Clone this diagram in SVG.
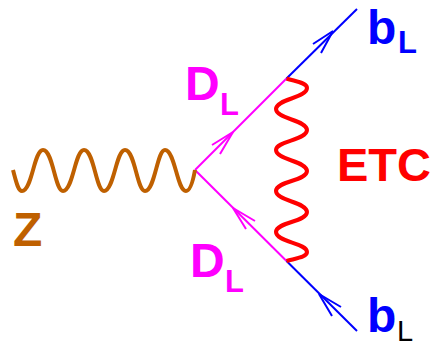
<svg xmlns="http://www.w3.org/2000/svg" width="430" height="343" viewBox="0 0 430 343">
<style>
.ln{fill:none;stroke-width:2;stroke-linecap:butt}
.hd{fill:none;stroke-width:2}
.m{stroke:#ff00ff}
.b{stroke:#0000ff}
.w{fill:none;stroke-width:4;stroke-linecap:butt}
text{font-family:"Liberation Sans",Arial,sans-serif;font-weight:bold}
.big{font-size:48px}
.etc{font-size:47px}
.sub{font-size:31px}
.subk{font-size:29px;font-weight:normal}
</style>
<rect width="430" height="343" fill="#ffffff"/>
<g id="connectors">
<path class="ln m" d="M195 170L286.500 78.500"/>
<path class="ln b" d="M286.500 78.500L357 9"/>
<path class="ln m" d="M195 170L286.500 261"/>
<path class="ln b" d="M286.500 261L357 331"/>
<path class="hd m" d="M212 145L233 132L220 154"/>
<path class="hd b" d="M313 44L333 31L321 53"/>
<path class="hd m" d="M255 221L233 208L246 229"/>
<path class="hd b" d="M341 307L319 294L332 316"/>
<path id="z-wave" class="w" stroke="#bf6000" d="M13 170C16 181 18 191 22 191C32 191 34 150 43 150C53 150 55 191 63 191C73 191 75 150 84 150C94 150 96 191 104 191C114 191 116 150 125 150C135 150 137 191 145 191C155 191 157 150 165 150C175 150 177 191 186 191C190 191 193 181 195 170"/>
<path id="etc-wave" class="w" stroke="#ff0000" d="M286.500 78.500C298 82 307 83 307 88C307 98 276 99 276 109C276 119 307 120 307 130C307 140 276 141 276 150C276 160 307 161 307 171C307 181 276 181 276 191C276 201 307 202 307 212C307 222 276 222 276 232C276 242 307 243 307 252C307 257 298 258 286.500 261"/>
</g>
<g id="node-z"><text x="13" y="246" class="big" fill="#bf6000">Z</text></g>
<g id="node-dl-top"><text x="185" y="100" class="big" fill="#ff00ff">D</text><text x="220" y="115" class="sub" fill="#ff00ff">L</text></g>
<g id="node-dl-bottom"><text x="190" y="277" class="big" fill="#ff00ff">D</text><text x="225" y="292" class="sub" fill="#ff00ff">L</text></g>
<g id="node-bl-top"><text x="367" y="44" class="big" fill="#0000ff">b</text><text x="398" y="53" class="sub" fill="#0000ff">L</text></g>
<g id="node-bl-bottom"><text x="367" y="332" class="big" fill="#0000ff">b</text><text x="397" y="341" class="subk" fill="#000000">L</text></g>
<g id="node-etc"><text x="337" y="181" class="etc" fill="#ff0000">ETC</text></g>
</svg>
